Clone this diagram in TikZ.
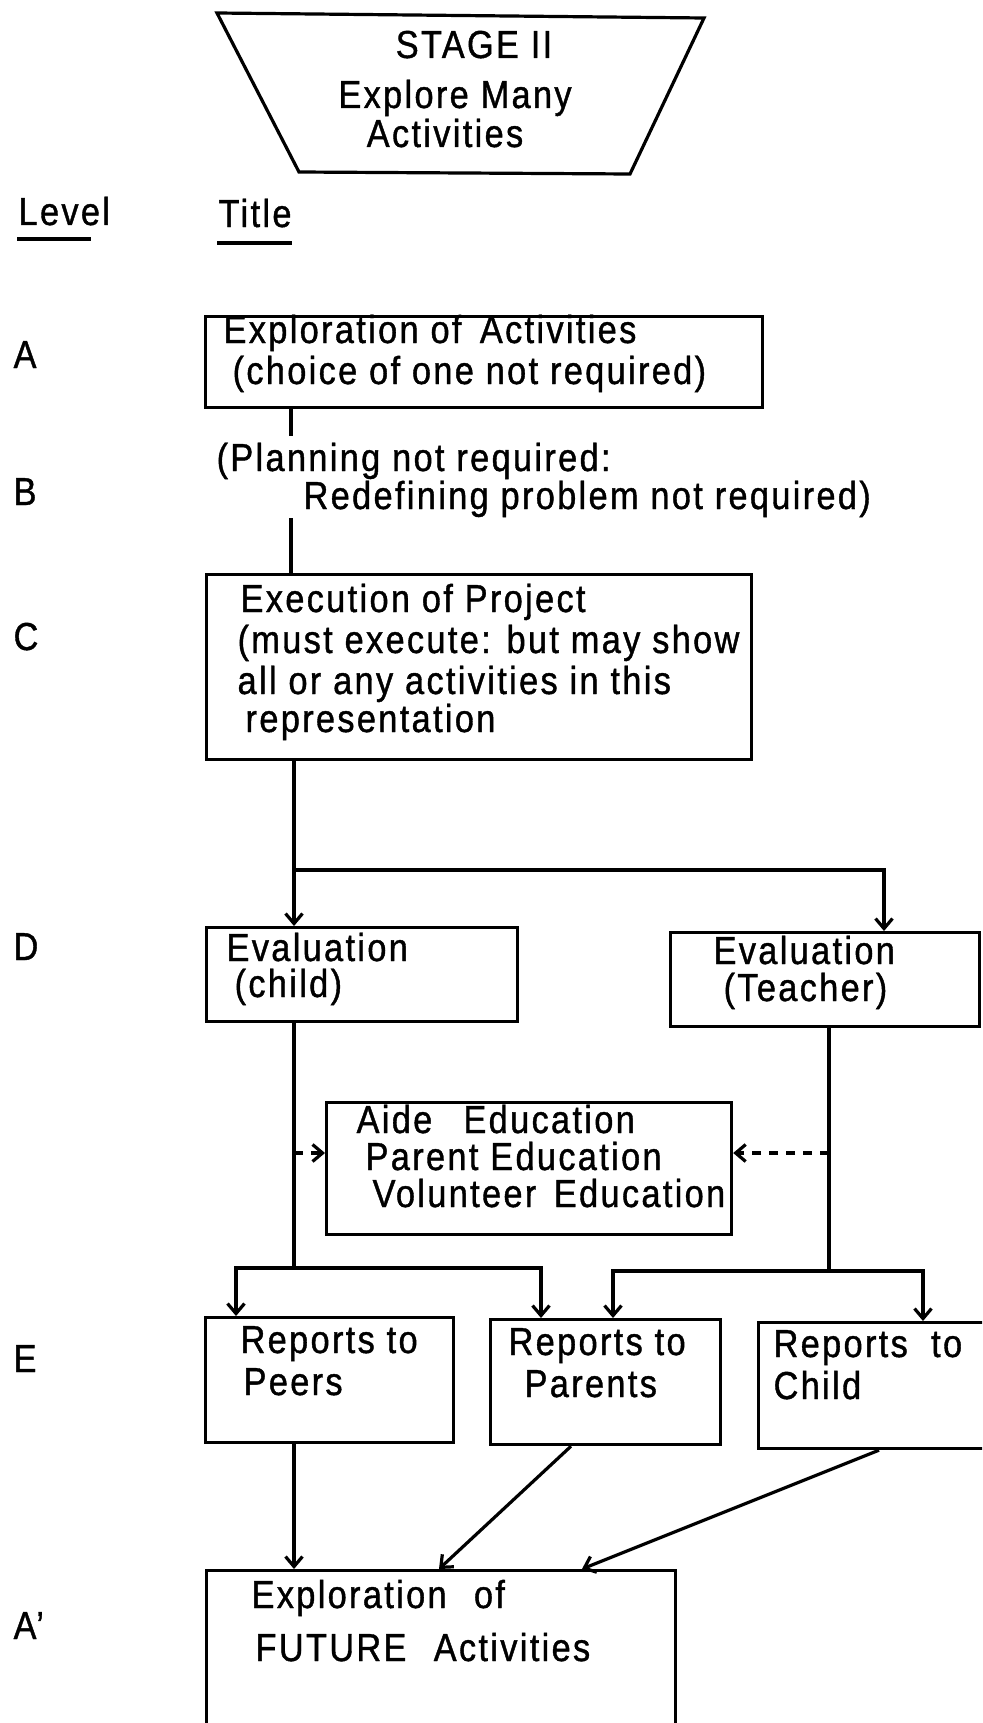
\documentclass[tikz,border=0pt]{standalone}
\usepackage{fontspec}
\setmainfont[FakeStretch=0.88,LetterSpace=6,FakeBold=1]{Liberation Sans}
\usetikzlibrary{arrows.meta}
\begin{document}
\begin{tikzpicture}[x=1pt,y=-1pt,line width=3.2pt,
  box/.style={draw,line width=3.2pt,inner sep=0pt,anchor=north west},
  txt/.style={anchor=base west,inner sep=0pt,font=\fontsize{39}{40}\selectfont},
  ctxt/.style={anchor=base,inner sep=0pt,font=\fontsize{39}{40}\selectfont},
  arr/.style={-{Straight Barb[length=10pt,width=17pt]}},
  dsh/.style={dash pattern=on 9pt off 8pt}]
\useasboundingbox (0,0) rectangle (982,1723);
\clip (0,0) rectangle (982,1723);

% stage banner
\draw (217,13) -- (704,18) -- (630,174) -- (299,172) -- cycle;
\node[ctxt] (st1) at (474,58) {STAGE II};
\node[ctxt] (st2) at (455,108) {Explore Many};
\node[ctxt] (st3) at (445,147) {Activities};

% column headings
\node[txt] (hlevel) at (17,225) {Level};
\node[txt] (htitle) at (217,227) {Title};
\draw[line width=3.6pt] (17,239) -- (91,239);
\draw[line width=3.6pt] (217,243) -- (292,243);

% level letters
\node[txt] (lA) at (12,368) {A};
\node[txt] (lB) at (12,505) {B};
\node[txt] (lC) at (12,650) {C};
\node[txt] (lD) at (12,960) {D};
\node[txt] (lE) at (12,1372) {E};
\node[txt] (lAp) at (12,1639) {A'};

% boxes
\node[box,minimum width=557pt,minimum height=91pt] (boxA) at (204,315) {};
\node[box,minimum width=545pt,minimum height=185pt] (boxC) at (205,573) {};
\node[box,minimum width=311pt,minimum height=94pt] (Dc) at (205,926) {};
\node[box,minimum width=309pt,minimum height=94pt] (Dt) at (669,931) {};
\node[box,minimum width=405pt,minimum height=132pt] (M) at (325,1101) {};
\node[box,minimum width=248pt,minimum height=125pt] (E1) at (204,1316) {};
\node[box,minimum width=230pt,minimum height=125pt] (E2) at (489,1318) {};
\node[box,minimum width=300pt,minimum height=126pt] (E3) at (757,1321) {};
\node[box,minimum width=469pt,minimum height=250pt] (Ap) at (205,1569) {};

% box texts
\node[txt] (a1) at (222,343) {Exploration of\, Activities};
\node[txt] (a2) at (231,384) {(choice of one not required)};
\node[txt] (b1) at (215,471) {(Planning not required:};
\node[txt] (b2) at (302,509) {Redefining problem not required)};
\node[txt] (c1) at (239,612) {Execution of Project};
\node[txt] (c2) at (236,653) {(must execute: but may show};
\node[txt] (c3) at (236,694) {all or any activities in this};
\node[txt] (c4) at (244,732) {representation};
\node[txt] (dc1) at (225,961) {Evaluation};
\node[txt] (dc2) at (233,997) {(child)};
\node[txt] (dt1) at (712,964) {Evaluation};
\node[txt] (dt2) at (722,1001) {(Teacher)};
\node[txt] (m1) at (355,1133) {Aide\hspace{0.8em}Education};
\node[txt] (m2) at (364,1170) {Parent Education};
\node[txt] (m3) at (371,1207) {Volunteer\hspace{0.45em}Education};
\node[txt] (e11) at (239,1353) {Reports to};
\node[txt] (e12) at (242,1395) {Peers};
\node[txt] (e21) at (507,1355) {Reports to};
\node[txt] (e22) at (523,1397) {Parents};
\node[txt] (e31) at (772,1357) {Reports\hspace{0.6em}to};
\node[txt] (e32) at (772,1399) {Child};
\node[txt] (ap1) at (250,1608) {Exploration\hspace{0.7em}of};
\node[txt] (ap2) at (254,1661) {FUTURE\hspace{0.7em}Activities};

% junction points
\coordinate (bTop) at (291,436);
\coordinate (bBot) at (291,518);
\coordinate (j1) at (294,870);
\coordinate (tx) at (884,0);
\coordinate (j2) at (294,1268);
\coordinate (j3) at (829,1271);
\coordinate (d1) at (294,1153);
\coordinate (d2) at (829,1153);
\coordinate (xE1) at (236,0);
\coordinate (xE2a) at (541,0);
\coordinate (xE2b) at (613,0);
\coordinate (xE3) at (923,0);
\coordinate (xE2s) at (571,0);
\coordinate (xE3s) at (879,0);
\coordinate (xAp2) at (439,0);
\coordinate (xAp3) at (582,0);

% connectors
\draw (boxA.south -| bTop) -- (bTop);
\draw (bBot) -- (boxC.north -| bBot);
\draw[arr] (boxC.south -| j1) -- (Dc.north -| j1);
\draw[arr] (j1) -| (Dt.north -| tx);
\draw (Dc.south -| j1) -- (j2);
\draw (Dt.south -| j3) -- (j3);
\draw[dsh,arr] (d1) -- (d1 -| M.west);
\draw[dsh,arr] (d2) -- (d2 -| M.east);
\draw[arr] (j2) -| (E1.north -| xE1);
\draw[arr] (j2) -| (E2.north -| xE2a);
\draw[arr] (j3) -| (E2.north -| xE2b);
\draw[arr] (j3) -| (E3.north -| xE3);
\draw[arr] (E1.south -| j1) -- (Ap.north -| j1);
\draw[arr] (E2.south -| xE2s) -- (Ap.north -| xAp2);
\draw[arr] (E3.south -| xE3s) -- (Ap.north -| xAp3);
\end{tikzpicture}
\end{document}
